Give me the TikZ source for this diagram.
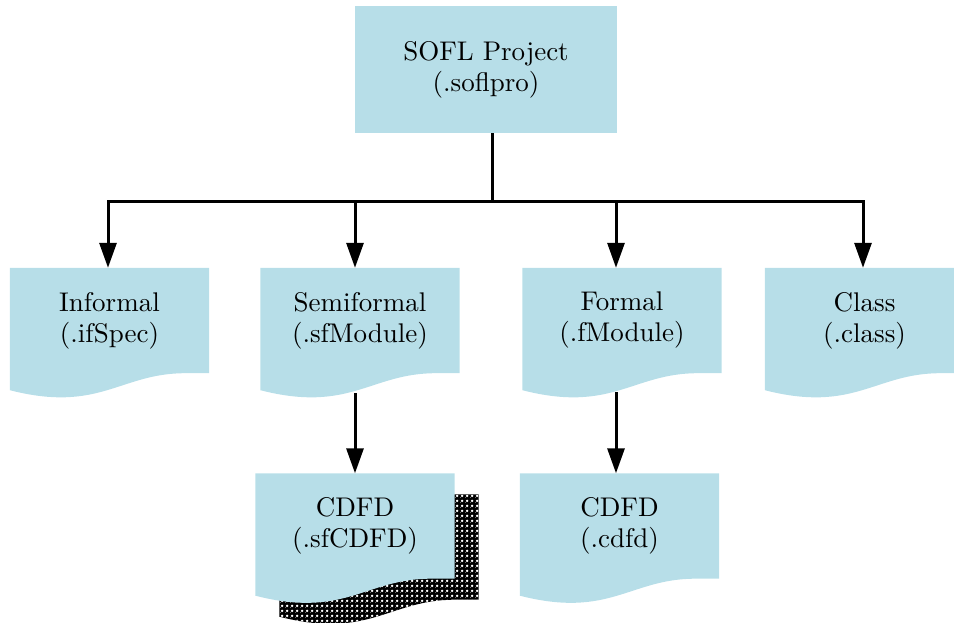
\documentclass[tikz,border=0pt]{standalone}
\usepackage{fontspec}
\setmainfont{lmroman10-regular.otf}
\usetikzlibrary{arrows.meta,backgrounds,patterns}
\definecolor{docblue}{RGB}{183,222,232}

% dense black/white texture for the stacked-page shadow
\pgfdeclarepatternformonly{shadowdots}{\pgfpointorigin}{\pgfpoint{5pt}{5pt}}{\pgfpoint{5pt}{5pt}}{%
  \pgfpathcircle{\pgfpoint{2.5pt}{2.5pt}}{1.6pt}%
  \pgfpathrectangle{\pgfpoint{-0.7pt}{-0.7pt}}{\pgfpoint{1.4pt}{1.4pt}}%
  \pgfusepath{fill}}

% document symbol: flat top, wavy bottom edge hanging below the node box
\newcommand\docfill[2]{%
  \fill[#2] (#1.north west) -- (#1.north east) -- (#1.south east)
    -- ([xshift=-24pt]#1.south east)
    .. controls ([xshift=110pt]#1.south west) and ([xshift=90pt,yshift=-40pt]#1.south west)
    .. ([yshift=-17pt]#1.south west) -- cycle;}

\begin{document}
\begin{tikzpicture}[x=1pt,y=-1pt,
  txt/.style={align=center,font=\fontsize{27}{31}\selectfont,inner sep=0pt},
  topbox/.style={txt,fill=docblue,minimum width=262pt,minimum height=127pt},
  docbody/.style={txt,minimum width=199pt,minimum height=105pt},
  link/.style={line width=3pt,line join=miter},
  arrow/.style={link,-{Triangle[width=17pt,length=25pt]}}]
\useasboundingbox (0,0) rectangle (954,623);

% nodes
\node[topbox] (proj) at (486,69.5) {SOFL Project\\(.soflpro)};
\node[docbody] (inf)   at (109.5,320.5) {Informal\\(.ifSpec)};
\node[docbody] (semi)  at (360,320.5)   {Semiformal\\(.sfModule)};
\node[docbody] (form)  at (622,320.5)   {Formal\\(.fModule)};
\node[docbody] (cls)   at (864.5,320.5) {Class\\(.class)};
\node[docbody] (sfsh)  at (379,547) {};
\node[docbody] (sfc)   at (355,526) {CDFD\\(.sfCDFD)};
\node[docbody] (cd)    at (619.5,526) {CDFD\\(.cdfd)};

% document shapes behind the labels
\begin{scope}[on background layer]
  \docfill{sfsh}{black}
  \docfill{sfsh}{pattern=shadowdots,pattern color=white}
  \docfill{inf}{docblue}
  \docfill{semi}{docblue}
  \docfill{form}{docblue}
  \docfill{cls}{docblue}
  \docfill{sfc}{docblue}
  \docfill{cd}{docblue}
\end{scope}

% connectors
\coordinate (hub) at (492,202);
\draw[link] ([xshift=6pt]proj.south) -- (hub);
\draw[arrow] (hub) -| ([xshift=-1.5pt]inf.north);
\draw[arrow] (hub) -| ([xshift=-5pt]semi.north);
\draw[arrow] (hub) -| ([xshift=-6pt]form.north);
\draw[arrow] (hub) -| ([xshift=-1.5pt]cls.north);
\draw[arrow] ([yshift=-20pt]semi.south -| sfc.north) -- (sfc.north);
\draw[arrow] ([xshift=-3.5pt,yshift=-19pt]cd.south |- form.south) -- ([xshift=-3.5pt]cd.north);
\end{tikzpicture}
\end{document}
